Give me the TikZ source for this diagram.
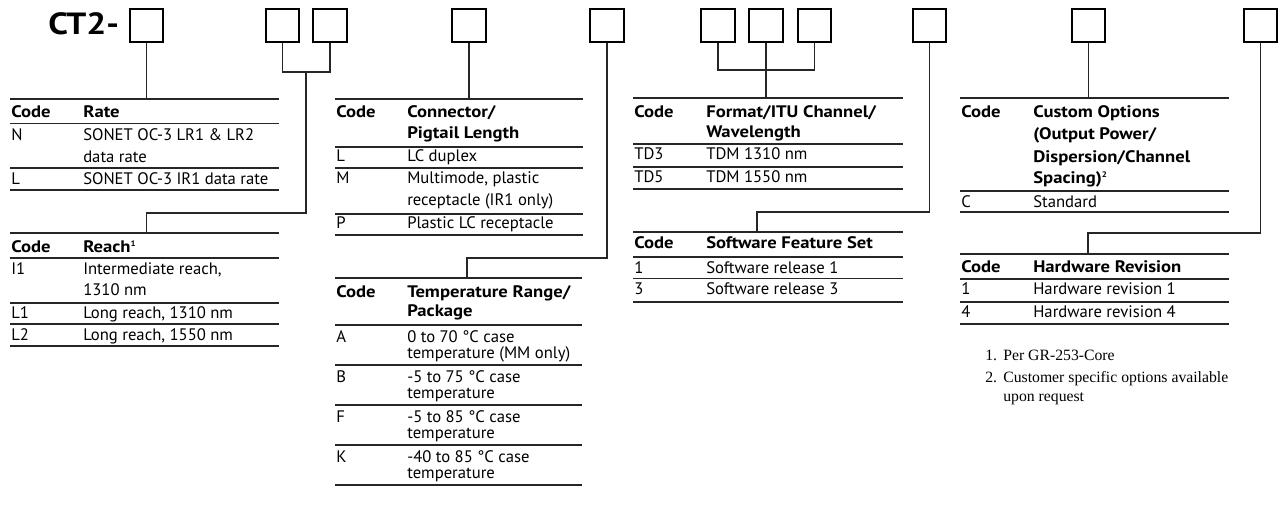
\documentclass[tikz,border=0pt]{standalone}
\usepackage{fontspec}
\setmainfont{PT Sans}
\newfontfamily\hdfont{PT Sans}[FakeStretch=1.12]
\newfontfamily\ttlfont{PT Sans}[FakeStretch=1.15]
\newfontfamily\notefont{Liberation Serif}
\begin{document}
\begin{tikzpicture}[x=0.75pt,y=-0.75pt,
  box/.style={draw=black, line width=1.5pt, minimum size=24.9pt, inner sep=0pt},
  txt/.style={anchor=base west, inner sep=0pt, font=\fontsize{12.5}{15}\selectfont, text=black},
  hd/.style={anchor=base west, inner sep=0pt, font=\hdfont\fontsize{12.5}{15}\selectfont\bfseries, text=black},
  note/.style={anchor=base west, inner sep=0pt, font=\notefont\fontsize{11.8}{14}\selectfont, text=black},
  rule/.style={line width=0.95pt, draw=black!85},
  conn/.style={line width=0.95pt, draw=black!85},
]
\useasboundingbox (0,0) rectangle (1280,506);

% title and boxes
\node[anchor=base west, inner sep=0pt, font=\ttlfont\fontsize{23}{26}\selectfont\bfseries] (title) at (48,35) {CT2-};
\foreach \n/\x in {1/146.5,2/282.5,3/330,4/469,5/607,6/718,7/766,8/814.5,9/929.5,10/1088.5,11/1260.5}
  \node[box] (b\n) at (\x,25.5) {};

% connectors
\coordinate (t1) at (146.5,99);
\draw[conn] (b1.south) -- (t1);
\coordinate (j23) at (306,72);
\coordinate (k23) at (146.5,213);
\coordinate (t2) at (146.5,233);
\draw[conn] (b2.south) |- (j23) -| (b3.south);
\draw[conn] (j23) |- (k23) -- (t2);
\coordinate (t3) at (469,99);
\draw[conn] (b4.south) -- (t3);
\coordinate (k5) at (467,258);
\coordinate (t4) at (467,278);
\draw[conn] (b5.south) |- (k5) -- (t4);
\coordinate (j678) at (766,70);
\coordinate (t5) at (766,98);
\draw[conn] (b6.south) |- (j678) -| (b8.south);
\draw[conn] (b7.south) -- (t5);
\coordinate (k9) at (757,212);
\coordinate (t6) at (757,232);
\draw[conn] (b9.south) |- (k9) -- (t6);
\coordinate (t7) at (1088.5,98);
\draw[conn] (b10.south) -- (t7);
\coordinate (k11) at (1088,233);
\coordinate (t8) at (1088,254);
\draw[conn] (b11.south) |- (k11) -- (t8);

% Rate table
\foreach \y in {99,123.5,168,190} \draw[rule] (10,\y) -- (279,\y);
\node[hd] (rh1) at (11,118) {Code};
\node[hd] (rh2) at (83,118) {Rate};
\node[txt] (ra1) at (11,141) {N};
\node[txt] (ra2) at (83,141) {SONET OC-3 LR1 \& LR2};
\node[txt] (ra3) at (83,162) {data rate};
\node[txt] (rb1) at (11,184.5) {L};
\node[txt] (rb2) at (83,184.5) {SONET OC-3 IR1 data rate};

% Reach table
\foreach \y in {233,258,303,324,346} \draw[rule] (10,\y) -- (279,\y);
\node[hd] (eh1) at (11,252) {Code};
\node[hd] (eh2) at (83,252) {Reach\raisebox{4.5pt}{\fontsize{6}{6}\selectfont 1}};
\node[txt] (ea1) at (11,274) {I1};
\node[txt] (ea2) at (83,274) {Intermediate reach,};
\node[txt] (ea3) at (83,295.5) {1310 nm};
\node[txt] (eb1) at (11,318.5) {L1};
\node[txt] (eb2) at (83,318.5) {Long reach, 1310 nm};
\node[txt] (ec1) at (11,340) {L2};
\node[txt] (ec2) at (83,340) {Long reach, 1550 nm};

% Connector table
\foreach \y in {99,147,168,214,235} \draw[rule] (335,\y) -- (583,\y);
\node[hd] (ch1) at (336,118) {Code};
\node[hd] (ch2) at (407,118) {Connector/};
\node[hd] (ch3) at (407,138.5) {Pigtail Length};
\node[txt] (ca1) at (336,161.5) {L};
\node[txt] (ca2) at (407,161.5) {LC duplex};
\node[txt] (cb1) at (336,183.5) {M};
\node[txt] (cb2) at (407,183.5) {Multimode, plastic};
\node[txt] (cb3) at (407,205) {receptacle (IR1 only)};
\node[txt] (cc1) at (336,228) {P};
\node[txt] (cc2) at (407,228) {Plastic LC receptacle};

% Temperature table
\foreach \y in {278,325,365,405,445,485} \draw[rule] (335,\y) -- (582,\y);
\node[hd] (th1) at (336,297) {Code};
\node[hd] (th2) at (407,297) {Temperature Range/};
\node[hd] (th3) at (407,316.5) {Package};
\node[txt] (ta1) at (336,342) {A};
\node[txt] (ta2) at (407,342) {0 to 70 °C case};
\node[txt] (ta3) at (407,358.5) {temperature (MM only)};
\node[txt] (tb1) at (336,382) {B};
\node[txt] (tb2) at (407,382) {-5 to 75 °C case};
\node[txt] (tb3) at (407,398) {temperature};
\node[txt] (tc1) at (336,422) {F};
\node[txt] (tc2) at (407,422) {-5 to 85 °C case};
\node[txt] (tc3) at (407,438.5) {temperature};
\node[txt] (td1) at (336,462) {K};
\node[txt] (td2) at (407,462) {-40 to 85 °C case};
\node[txt] (td3) at (407,478.5) {temperature};

% Format table
\foreach \y in {98,144,167,189} \draw[rule] (633,\y) -- (903,\y);
\node[hd] (fh1) at (634,118) {Code};
\node[hd] (fh2) at (706,118) {Format/ITU Channel/};
\node[hd] (fh3) at (706,137.5) {Wavelength};
\node[txt] (fa1) at (634,160) {TD3};
\node[txt] (fa2) at (706,160) {TDM 1310 nm};
\node[txt] (fb1) at (634,182) {TD5};
\node[txt] (fb2) at (706,182) {TDM 1550 nm};

% Software table
\foreach \y in {232,257,278.5,302} \draw[rule] (633,\y) -- (903,\y);
\node[hd] (sh1) at (634,248.5) {Code};
\node[hd] (sh2) at (706,248.5) {Software Feature Set};
\node[txt] (sa1) at (634,273) {1};
\node[txt] (sa2) at (706,273) {Software release 1};
\node[txt] (sb1) at (634,294.5) {3};
\node[txt] (sb2) at (706,294.5) {Software release 3};

% Custom options table
\foreach \y in {98,191,212} \draw[rule] (960,\y) -- (1229,\y);
\node[hd] (oh1) at (961,118) {Code};
\node[hd] (oh2) at (1033,118) {Custom Options};
\node[hd] (oh3) at (1033,140) {(Output Power/};
\node[hd] (oh4) at (1033,162) {Dispersion/Channel};
\node[hd] (oh5) at (1033,183.5) {Spacing)\raisebox{4.5pt}{\fontsize{6}{6}\selectfont 2}};
\node[txt] (oa1) at (961,207) {C};
\node[txt] (oa2) at (1033,207) {Standard};

% Hardware table
\foreach \y in {254,279,302,324} \draw[rule] (960,\y) -- (1229,\y);
\node[hd] (hh1) at (961,272.5) {Code};
\node[hd] (hh2) at (1033,272.5) {Hardware Revision};
\node[txt] (ha1) at (961,294.5) {1};
\node[txt] (ha2) at (1033,294.5) {Hardware revision 1};
\node[txt] (hb1) at (961,317) {4};
\node[txt] (hb2) at (1033,317) {Hardware revision 4};

% footnotes
\node[note] (n1a) at (985,360) {1.};
\node[note] (n1b) at (1003,360) {Per GR-253-Core};
\node[note] (n2a) at (985,382) {2.};
\node[note] (n2b) at (1003,382) {Customer specific options available};
\node[note] (n2c) at (1003,401) {upon request};
\end{tikzpicture}
\end{document}
